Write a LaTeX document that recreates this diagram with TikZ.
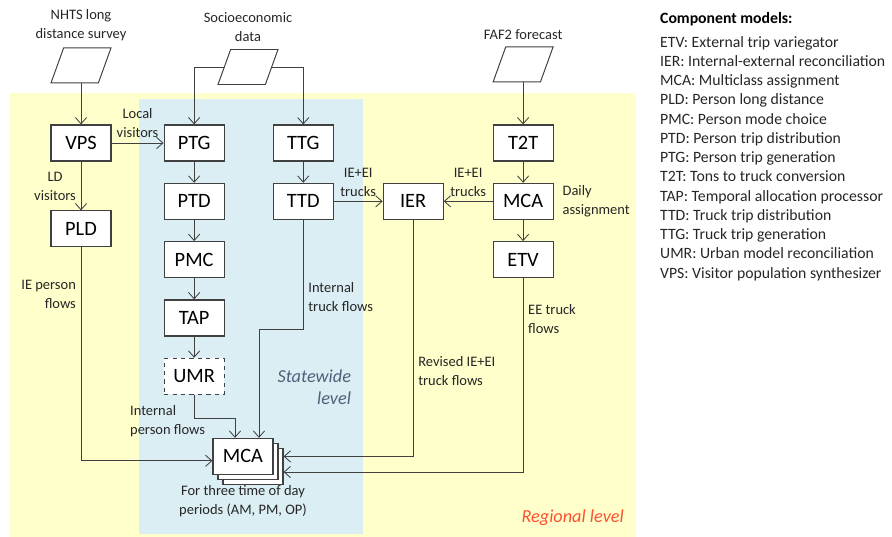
\documentclass[tikz,border=0pt]{standalone}
\usepackage{fontspec}
\setmainfont{Carlito}
\usepackage{xcolor}
\usetikzlibrary{shapes.geometric, arrows.meta, positioning, shadows}
\definecolor{lineclr}{RGB}{64, 64, 64}
\definecolor{regionbg}{RGB}{255, 255, 204}
\definecolor{statebg}{RGB}{219, 238, 243}
\definecolor{stateclr}{RGB}{80, 96, 124}
\definecolor{regionclr}{RGB}{255, 80, 48}
\definecolor{txtclr}{RGB}{38, 38, 38}

\begin{document}
\begin{tikzpicture}[
    node distance=0.53cm and 1.22cm,
    block/.style={rectangle, draw=lineclr, fill=white, line width=0.8pt, minimum width=1.5cm, minimum height=0.9cm, font=\fontsize{14.5}{17}\selectfont},
    datain/.style={trapezium, trapezium left angle=70, trapezium right angle=110, trapezium stretches=true, draw=lineclr, fill=white, line width=0.7pt, minimum width=1.5cm, minimum height=0.875cm},
    lbl/.style={font=\fontsize{10.3}{13.5}\selectfont, text=txtclr},
    arrow/.style={-{Straight Barb[length=4.5pt, width=8pt]}, line width=0.6pt, lineclr}
]
    \useasboundingbox (0,0) rectangle (22.3,-13.425);
    % background regions
    \fill[regionbg] (0.25,-2.325) rectangle (15.9,-13.425);
    \fill[statebg] (3.475,-2.475) rectangle (9.075,-13.35);

    % person side
    \node[block] (vps) at (2.025,-3.575) {VPS};
    \node[block, right=1.3cm of vps] (ptg) {PTG};
    \node[block, below=of ptg] (ptd) {PTD};
    \node[block, below=of ptd] (pmc) {PMC};
    \node[block, below=of pmc] (tap) {TAP};
    \node[block, below=of tap, dashed] (umr) {UMR};
    \node[block, below=1.22cm of vps] (pld) {PLD};
    % truck side
    \node[block, right=1.2cm of ptg] (ttg) {TTG};
    \node[block, below=of ttg] (ttd) {TTD};
    \node[block, right=of ttd] (ier) {IER};
    \node[block, right=of ier] (mcad) {MCA};
    \node[block, above=of mcad] (t2t) {T2T};
    \node[block, below=of mcad] (etv) {ETV};
    % assignment
    \node[block, double copy shadow={shadow xshift=0.125cm, shadow yshift=-0.125cm, draw=lineclr, fill=white}] (mcab) at (6.075,-11.41) {MCA};

    % inputs
    \node[datain, above=1.025cm of vps] (nhts) {};
    \node[datain] (socio) at (6.2,-1.675) {};
    \node[datain, above=1.05cm of t2t] (faf) {};
    \node[lbl, above=0.05cm of nhts, align=center] (nhtstxt) {NHTS long\\distance survey};
    \node[lbl, above=0.05cm of socio, align=center] (sociotxt) {Socioeconomic\\data};
    \node[lbl, above=0.05cm of faf] (faftxt) {FAF2 forecast};

    \draw[arrow] (nhts) -- (vps);
    \draw[arrow] (socio) -| (ptg);
    \draw[arrow] (socio) -| (ttg);
    \draw[arrow] (faf) -- (t2t);
    \draw[arrow] (vps) -- node[lbl, above, align=center] {Local\\visitors} (ptg);
    \draw[arrow] (vps) -- node[lbl, left, align=center] {LD\\visitors} (pld);
    \draw[arrow] (ptg) -- (ptd);
    \draw[arrow] (ptd) -- (pmc);
    \draw[arrow] (pmc) -- (tap);
    \draw[arrow] (tap) -- (umr);
    \draw[arrow] (ttg) -- (ttd);
    \draw[arrow] (t2t) -- (mcad);
    \draw[arrow] (mcad) -- (etv);
    \draw[arrow] (ttd) -- node[lbl, above, align=center] {IE+EI\\trucks} (ier);
    \draw[arrow] (mcad) -- node[lbl, above, align=center] {IE+EI\\trucks} (ier);
    \node[lbl, right=0.1cm of mcad, align=left] (daily) {Daily\\assignment};

    % flows into the assignment
    \draw[arrow] (pld) |- node[lbl, left, pos=0.11, align=right] {IE person\\flows} ([yshift=-0.11cm]mcab.west);
    \draw[arrow] (umr.south) -- ++(0,-0.6) -| ([xshift=-0.2cm]mcab.north);
    \node[lbl, align=left, anchor=west] (intp) at (3.13,-10.54) {Internal\\person flows};
    \draw[arrow] (ttd.south) -- node[lbl, right, pos=0.7, align=left] {Internal\\truck flows} ++(0,-2.75) -| ([xshift=0.4cm]mcab.north);
    \draw[arrow] (ier) |- node[lbl, right, pos=0.32, align=left] {Revised IE+EI\\truck flows} ([xshift=0.25cm]mcab.east);
    \draw[arrow] (etv) |- node[lbl, right, pos=0.105, align=left] {EE truck\\flows} ([xshift=0.25cm, yshift=-0.39cm]mcab.east);
    \node[lbl, below=0.15cm of mcab, align=center] (periods) {For three time of day\\periods (AM, PM, OP)};

    % level names
    \node[font=\fontsize{13}{16}\selectfont\itshape, text=stateclr, align=right, anchor=east] (statewide) at (8.9,-9.675) {Statewide\\level};
    \node[font=\fontsize{13}{16}\selectfont\itshape, text=regionclr, anchor=east] (regional) at (15.72,-12.95) {Regional level};

    % legend
    \node[font=\fontsize{11.2}{13.7}\selectfont\bfseries, anchor=west] (legendtitle) at (16.38,-0.475) {Component models:};
    \node[font=\fontsize{11.2}{13.7}\selectfont, text=txtclr, align=left, anchor=west] (legend) at (16.38,-3.96) {ETV: External trip variegator\\IER: Internal-external reconciliation\\MCA: Multiclass assignment\\PLD: Person long distance\\PMC: Person mode choice\\PTD: Person trip distribution\\PTG: Person trip generation\\T2T: Tons to truck conversion\\TAP: Temporal allocation processor\\TTD: Truck trip distribution\\TTG: Truck trip generation\\UMR: Urban model reconciliation\\VPS: Visitor population synthesizer};
\end{tikzpicture}
\end{document}
